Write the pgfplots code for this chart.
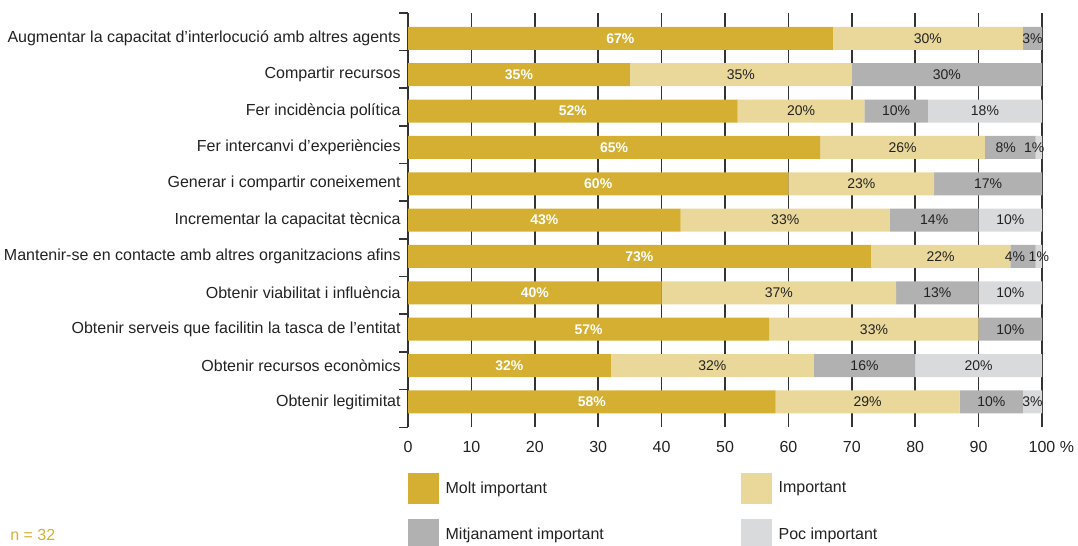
\documentclass[border=0pt]{standalone}
\usepackage{pgfplots}
\pgfplotsset{compat=1.18}
\usepackage{fontspec}
\setmainfont{Liberation Sans}
\definecolor{cMolt}{HTML}{D4AF32}
\definecolor{cImp}{HTML}{E9D89A}
\definecolor{cMit}{HTML}{B1B1B2}
\definecolor{cPoc}{HTML}{D9DADB}
\definecolor{txt}{HTML}{222222}
\definecolor{axl}{HTML}{333333}
\begin{document}
\begin{tikzpicture}
\begin{axis}[
  at={(306pt,-9.525pt)}, anchor=north west,
  scale only axis, width=475.5pt, height=310.95pt,
  xbar stacked, bar width=17.25pt,
  legend image code/.code={\fill[#1,draw=none] (0pt,-11.625pt) rectangle (23.25pt,11.625pt);},
  xmin=0, xmax=100, ymin=-0.698, ymax=10.704,
  axis y line*=left, axis x line*=bottom,
  x axis line style={draw=none},
  y axis line style={line width=1.2pt, draw=axl},
  xtick={0,10,...,100},
  xticklabels={0,10,20,30,40,50,60,70,80,90,{100\rlap{ \%}}},
  ytick={0,...,10},
  yticklabels={Obtenir legitimitat,Obtenir recursos econòmics,Obtenir serveis que facilitin la tasca de l’entitat,Obtenir viabilitat i influència,Mantenir-se en contacte amb altres organitzacions afins,Incrementar la capacitat tècnica,Generar i compartir coneixement,Fer intercanvi d’experiències,Fer incidència política,Compartir recursos,Augmentar la capacitat d’interlocució amb altres agents},
  minor ytick={10.704,9.667,8.631,7.594,6.558,5.521,4.484,3.448,2.411,1.375,0.338,-0.698},
  tick align=outside,
  major tick length=0pt, minor tick length=6.5pt,
  minor tick style={line width=1.2pt, draw=axl},
  xmajorgrids, major grid style={line width=1.1pt, draw=axl},
  xticklabel style={font=\fontsize{12}{14}\selectfont, text=txt, yshift=-7pt},
  yticklabel style={font=\fontsize{12}{14}\selectfont, text=txt, xshift=-2pt},
  point meta=explicit symbolic,
  nodes near coords,
  every node near coord/.append style={anchor=center, font=\fontsize{10.5}{12}\selectfont, text=txt},
  legend columns=2, legend cell align=left,
  legend style={at={(0,-0.1095)}, anchor=north west, draw=none, fill=none, inner sep=0pt, outer sep=0pt, row sep=11.25pt, font=\fontsize{12}{14}\selectfont, text=txt, nodes={inner xsep=5pt, inner ysep=0pt}, /tikz/every even column/.append style={column sep=16.5pt}},
]
\addplot[fill=cMolt, draw=none, every node near coord/.append style={text=white, font=\bfseries\fontsize{10.5}{12}\selectfont}] coordinates {
 (67,10) [67\%] (35,9) [35\%] (52,8) [52\%] (65,7) [65\%] (60,6) [60\%] (43,5) [43\%]
 (73,4) [73\%] (40,3) [40\%] (57,2) [57\%] (32,1) [32\%] (58,0) [58\%]};
\addlegendentry{\makebox[200pt][l]{Molt important}}
\addplot[fill=cImp, draw=none] coordinates {
 (30,10) [30\%] (35,9) [35\%] (20,8) [20\%] (26,7) [26\%] (23,6) [23\%] (33,5) [33\%]
 (22,4) [22\%] (37,3) [37\%] (33,2) [33\%] (32,1) [32\%] (29,0) [29\%]};
\addlegendentry{\makebox[200pt][l]{Important}}
\addplot[fill=cMit, draw=none] coordinates {
 (3,10) [3\%] (30,9) [30\%] (10,8) [10\%] (8,7) [8\%\kern7pt] (17,6) [17\%] (14,5) [14\%]
 (4,4) [4\%\kern12pt] (13,3) [13\%] (10,2) [10\%] (16,1) [16\%] (10,0) [10\%]};
\addlegendentry{\makebox[200pt][l]{Mitjanament important}}
\addplot[fill=cPoc, draw=none] coordinates {
 (0,10) [{}] (0,9) [{}] (18,8) [18\%] (1,7) [1\%\kern7pt] (0,6) [{}] (10,5) [10\%]
 (1,4) [1\%] (10,3) [10\%] (0,2) [{}] (20,1) [20\%] (3,0) [3\%]};
\addlegendentry{\makebox[200pt][l]{Poc important}}
\end{axis}
\node[anchor=west, text=cMolt, font=\fontsize{12}{14}\selectfont, inner sep=0pt] at (7.5pt,-401.25pt) {n = 32};
\pgfresetboundingbox
\path (0,0) rectangle (808.5pt,-409.5pt);
\end{tikzpicture}
\end{document}
